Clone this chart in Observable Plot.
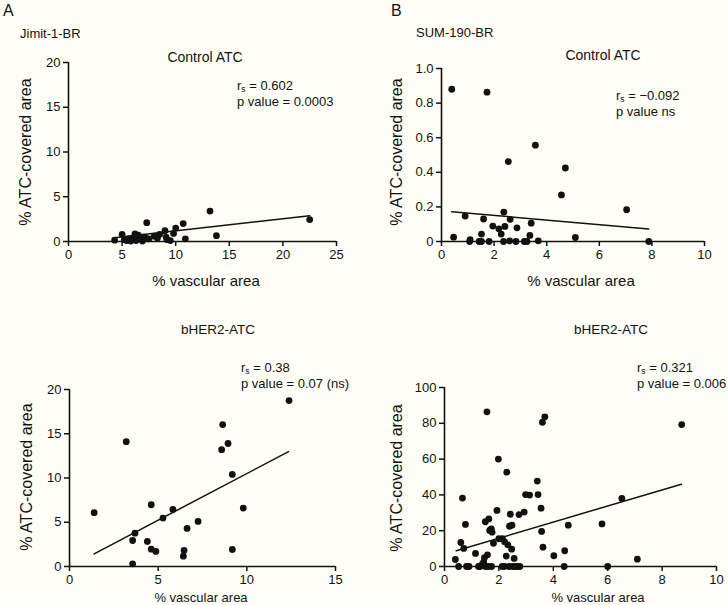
<!DOCTYPE html>
<html>
<head>
<meta charset="utf-8">
<script src="https://cdn.jsdelivr.net/npm/d3@7"></script>
<script src="https://cdn.jsdelivr.net/npm/@observablehq/plot@0.6"></script>
<style>
  html, body { margin: 0; padding: 0; background: #fffff7; }
  #root { position: relative; width: 728px; height: 605px; background: #fffff7; font-family: "Liberation Sans", Arial, Helvetica, sans-serif; color: #111; overflow: hidden; }
  .lab { position: absolute; white-space: nowrap; line-height: 1; }
  .stat { position: absolute; white-space: nowrap; line-height: 16px; font-size: 13px; }
  .plot { position: absolute; }
  .ytitle { position: absolute; transform: translate(-50%, -50%) rotate(-90deg); white-space: nowrap; line-height: 1; }
  sub { font-size: 8.5px; vertical-align: -2px; line-height: 0; }
</style>
</head>
<body>
<div id="root"></div>
<script>
// ---------- data ----------
const jimitCtrlX = [4.3,5.0,5.2,5.4,5.6,5.8,6.0,6.2,6.3,6.5,6.7,6.9,7.0,7.2,7.3,7.5,8.0,8.3,8.5,9.0,9.1,9.2,9.5,9.8,10.0,10.7,10.9,13.2,13.8,22.5];
const jimitCtrlY = [0.15,0.8,0.2,0.1,0.3,0.05,0.4,0.85,0.1,0.7,0.3,0.05,0.5,0.4,2.1,0.3,0.6,0.4,0.8,1.2,0.5,0.2,0.1,0.9,1.5,2.0,0.3,3.4,0.65,2.45];
const jimitCtrlFitX = [4.3, 22.5];
const jimitCtrlFitY = [0.43, 2.88];

const sumCtrlX = [0.39,1.73,2.54,3.57,4.71,4.56,7.04,7.88,5.09,0.9,1.6,2.37,2.61,1.95,2.18,2.41,2.87,3.41,0.46,1.09,1.07,1.52,1.52,1.81,2.27,2.36,2.59,2.83,3.15,3.25,3.36,3.68,1.43];
const sumCtrlY = [0.88,0.863,0.462,0.557,0.425,0.269,0.184,0.0,0.023,0.147,0.13,0.17,0.128,0.089,0.073,0.087,0.079,0.106,0.025,0.01,0,0.043,0,0,0.043,0,0.004,0,0,0,0.035,0.004,0];
const sumCtrlFitX = [0.39, 7.88];
const sumCtrlFitY = [0.172, 0.072];

const jimitHerX = [1.39,3.2,3.56,3.69,3.56,4.39,4.61,4.61,4.87,5.27,5.83,6.46,6.42,6.63,7.25,8.58,8.64,8.94,9.18,9.18,9.8,12.38];
const jimitHerY = [6.08,14.1,2.94,3.77,0.3,2.83,6.98,1.96,1.7,5.47,6.45,1.81,1.17,4.3,5.09,13.2,16.04,13.9,10.4,1.92,6.6,18.75];
const jimitHerFitX = [1.39, 12.35];
const jimitHerFitY = [1.43, 12.98];

const sumHerX = [0.4,0.6,0.66,0.71,0.77,0.52,0.81,1.14,1.31,1.39,1.44,1.47,1.51,1.56,1.5,1.63,1.58,1.66,1.72,1.75,1.73,1.8,1.93,1.98,2.0,2.13,2.21,2.27,2.29,2.33,2.12,2.37,2.42,2.39,2.48,2.47,2.56,2.61,2.74,2.77,2.93,2.98,3.13,3.41,3.44,3.55,3.57,3.6,3.69,3.62,4.02,4.4,4.42,4.55,5.79,6.0,6.52,7.09,8.72,0.9,1.25,1.6,2.2,2.5,2.68];
const sumHerY = [3.9,13.4,38.2,10.1,23.5,0,0,7.3,0,1.3,2.6,5,0,86.4,25,26.6,6.5,20.1,21,19.2,0,13,31.3,60,15.5,15.5,13.8,5.8,52.7,12.1,0,0,29.2,22.5,23.1,9.7,4.5,0,29,0,30.4,40.2,39.9,47.7,40.2,32.6,19.6,80.6,83.6,10.8,6,0,8.8,23.1,23.8,0,38,4.1,79.3,0,0,0,0,0,0];
const sumHerFitX = [0.43, 8.71];
const sumHerFitY = [8.75, 46];

// ---------- layout ----------
const root = document.getElementById("root");
const font = '"Liberation Sans", Arial, Helvetica, sans-serif';

function makePlot(opts) {
  const pts = opts.xs.map((x, i) => ({x, y: opts.ys[i]}));
  const fit = opts.fx.map((x, i) => ({x, y: opts.fy[i]}));
  const fmtX = opts.xf || (d => String(d));
  const fmtY = opts.yf || (d => String(d));
  const p = Plot.plot({
    width: opts.w, height: opts.h,
    marginLeft: opts.ml, marginRight: opts.mr, marginTop: opts.mt, marginBottom: opts.mb,
    style: {fontFamily: font, fontSize: "13px", background: "transparent", color: "#111", overflow: "visible"},
    x: {domain: opts.xd},
    y: {domain: opts.yd},
    marks: [
      Plot.axisX({ticks: opts.xt, tickFormat: fmtX, tickSize: 5, tickPadding: 3, strokeWidth: 1.5, label: null, fontSize: 13}),
      Plot.axisY({ticks: opts.yt, tickFormat: fmtY, tickSize: 5, tickPadding: 3, strokeWidth: 1.5, label: null, fontSize: 13}),
      Plot.ruleY([opts.yd[0]], {stroke: "#111", strokeWidth: 1.6}),
      Plot.ruleX([opts.xd[0]], {stroke: "#111", strokeWidth: 1.6}),
      Plot.line(fit, {x: "x", y: "y", stroke: "#111", strokeWidth: 1.5}),
      Plot.dot(pts, {x: "x", y: "y", r: 3.4, fill: "#111", stroke: "none"})
    ]
  });
  const wrap = document.createElement("div");
  wrap.className = "plot";
  wrap.style.left = opts.left + "px";
  wrap.style.top = opts.top + "px";
  wrap.appendChild(p);
  root.appendChild(wrap);
}

function label(html, x, y, size, anchor) {
  const d = document.createElement("div");
  d.className = "lab";
  d.innerHTML = html;
  d.style.fontSize = size + "px";
  d.style.left = x + "px";
  d.style.top = y + "px";
  d.style.transform = anchor === "middle" ? "translate(-50%, -50%)" : "translate(0, -50%)";
  root.appendChild(d);
}
function stat(line1, line2, x, yTop) {
  const d = document.createElement("div");
  d.className = "stat";
  d.innerHTML = line1 + "<br>" + line2;
  d.style.left = x + "px";
  d.style.top = yTop + "px";
  root.appendChild(d);
}
function ytitle(text, x, y, size) {
  const d = document.createElement("div");
  d.className = "ytitle";
  d.textContent = text;
  d.style.fontSize = size + "px";
  d.style.left = x + "px";
  d.style.top = y + "px";
  root.appendChild(d);
}

const oneDec = d => d === 0 ? "0" : d3.format(".1f")(d);

makePlot({left: 0, top: 0, w: 364, h: 300, ml: 68, mr: 28, mt: 62, mb: 59,
  xs: jimitCtrlX, ys: jimitCtrlY, fx: jimitCtrlFitX, fy: jimitCtrlFitY,
  xd: [0, 25], xt: [0,5,10,15,20,25], yd: [0, 20], yt: [0,5,10,15,20]});
makePlot({left: 364, top: 0, w: 364, h: 300, ml: 77, mr: 24, mt: 68, mb: 59,
  xs: sumCtrlX, ys: sumCtrlY, fx: sumCtrlFitX, fy: sumCtrlFitY,
  xd: [0, 10], xt: [0,2,4,6,8,10], yd: [0, 1], yt: [0,0.2,0.4,0.6,0.8,1.0], yf: oneDec});
makePlot({left: 0, top: 300, w: 364, h: 305, ml: 69, mr: 29, mt: 89, mb: 39,
  xs: jimitHerX, ys: jimitHerY, fx: jimitHerFitX, fy: jimitHerFitY,
  xd: [0, 15], xt: [0,5,10,15], yd: [0, 20], yt: [0,5,10,15,20]});
makePlot({left: 364, top: 300, w: 364, h: 305, ml: 80, mr: 12, mt: 87, mb: 39,
  xs: sumHerX, ys: sumHerY, fx: sumHerFitX, fy: sumHerFitY,
  xd: [0, 10], xt: [0,2,4,6,8,10], yd: [0, 100], yt: [0,20,40,60,80,100]});

// panel letters and cell lines
label("A", 3, 11, 16, "start");
label("Jimit-1-BR", 20, 33, 13, "start");
label("B", 391, 11, 16, "start");
label("SUM-190-BR", 416, 32, 13, "start");

// panel titles
label("Control ATC", 205, 57, 14, "middle");
label("Control ATC", 603, 55, 14, "middle");
label("bHER2-ATC", 218, 330, 13.5, "middle");
label("bHER2-ATC", 611, 330, 13.5, "middle");

// stats (two lines each)
stat("r<sub>s</sub> = 0.602", "p value = 0.0003", 237, 78);
stat("r<sub>s</sub> = \u22120.092", "p value ns", 616, 88);
stat("r<sub>s</sub> = 0.38", "p value = 0.07 (ns)", 241, 360);
stat("r<sub>s</sub> = 0.321", "p value = 0.006", 637, 360);

// axis titles
label("% vascular area", 206, 280, 15, "middle");
label("% vascular area", 581, 280, 15, "middle");
label("% vascular area", 201, 597, 13, "middle");
label("% vascular area", 598, 597, 13, "middle");
ytitle("% ATC-covered area", 26, 152, 16);
ytitle("% ATC-covered area", 397, 152, 16);
ytitle("% ATC-covered area", 27, 477, 16);
ytitle("% ATC-covered area", 397, 478, 16);
</script>
</body>
</html>
